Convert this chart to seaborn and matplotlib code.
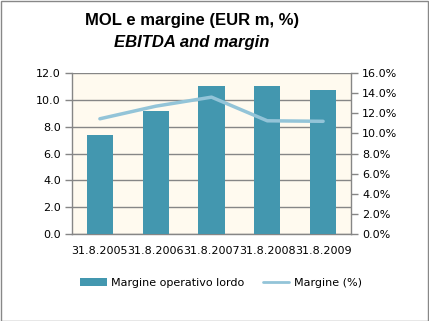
import matplotlib
matplotlib.use("Agg")
import matplotlib.pyplot as plt
import seaborn as sns
import numpy as np
import pandas as pd
from matplotlib.ticker import FixedLocator, FuncFormatter
from matplotlib.patches import Rectangle
from matplotlib.lines import Line2D

dates = ["31.8.2005", "31.8.2006", "31.8.2007", "31.8.2008", "31.8.2009"]
mol = [7.4, 9.2, 11.0, 11.05, 10.7]
margin_pct = [11.45, 12.7, 13.6, 11.25, 11.2]
left_ticks = [0, 2, 4, 6, 8, 10, 12]
right_ticks = [0, 2, 4, 6, 8, 10, 12, 14, 16]

bar_color = "#4397AF"
line_color = "#93C4D8"
bg_color = "#FFFAEF"
grid_color = "#868686"

sns.set_style("white")
plt.rcParams["font.family"] = ["DejaVu Sans"]
plt.rcParams["text.color"] = "black"
plt.rcParams["xtick.labelcolor"] = "black"
plt.rcParams["ytick.labelcolor"] = "black"

fig = plt.figure(figsize=(4.29, 3.21), dpi=100)
ax = fig.add_axes([72/429, 1-234/321, (351-72)/429, (234-73)/321])
ax.set_facecolor(bg_color)

df = pd.DataFrame({"date": dates, "mol": mol})
sns.barplot(data=df, x="date", y="mol", color=bar_color, width=0.47,
            saturation=1, ax=ax, zorder=3)
for p in ax.patches:
    p.set_edgecolor("none")

ax.set_ylim(0, 12)
ax.set_xlim(-0.5, 4.5)
ax.yaxis.set_major_locator(FixedLocator(left_ticks))
ax.yaxis.set_major_formatter(FuncFormatter(lambda v, p: f"{v:.1f}"))
ax.grid(axis="y", color=grid_color, linewidth=1, zorder=1)
ax.set_axisbelow(True)
ax.set_xlabel("")
ax.set_ylabel("")
ax.xaxis.set_minor_locator(FixedLocator(np.arange(-0.5, 5.0, 1.0)))
ax.tick_params(axis="x", which="major", length=0, pad=9, labelsize=8, labelcolor="black")
ax.tick_params(axis="x", which="minor", length=5, width=1, color=grid_color, direction="out")
ax.tick_params(axis="y", length=5, width=1, color=grid_color, direction="out",
               labelsize=8, pad=3, labelcolor="black")
for s in ["top", "right"]:
    ax.spines[s].set_visible(False)
for s in ["left", "bottom"]:
    ax.spines[s].set_color(grid_color)
    ax.spines[s].set_linewidth(1)

ax2 = ax.twinx()
sns.lineplot(x=np.arange(len(dates)), y=margin_pct, ax=ax2, color=line_color,
             linewidth=2.5, zorder=4)
ax2.set_ylim(0, 16)
ax2.set_xlim(-0.5, 4.5)
ax2.yaxis.set_major_locator(FixedLocator(right_ticks))
ax2.yaxis.set_major_formatter(FuncFormatter(lambda v, p: f"{v:.1f}%"))
ax2.tick_params(axis="y", length=5, width=1, color=grid_color, direction="out",
                labelsize=8, pad=3, labelcolor="black")
for s in ["top", "left", "bottom"]:
    ax2.spines[s].set_visible(False)
ax2.spines["right"].set_color(grid_color)
ax2.spines["right"].set_linewidth(1)

fig.text(192/429, 1-21/321, "MOL e margine (EUR m, %)", ha="center", va="center",
         fontsize=12, fontweight="bold", family=["Liberation Sans"], color="black")
fig.text(192/429, 1-43/321, "EBITDA and margin", ha="center", va="center",
         fontsize=12, fontweight="bold", style="italic", family=["Liberation Sans"],
         color="black")

handles = [Rectangle((0, 0), 1, 1, facecolor=bar_color, edgecolor="none"),
           Line2D([0], [0], color=line_color, linewidth=2)]
fig.legend(handles, ["Margine operativo lordo", "Margine (%)"], loc="center",
           bbox_to_anchor=(221/429, 1-283/321), ncol=2, frameon=False, fontsize=8,
           handlelength=2.4, handleheight=0.8, columnspacing=1.6, handletextpad=0.4,
           labelcolor="black")

fig.patches.append(Rectangle((0.5/429, 0.5/321), 1-1.5/429, 1-1.5/321, transform=fig.transFigure,
                             fill=False, edgecolor="#888888", linewidth=1))

fig.savefig("out.png", dpi=100)
